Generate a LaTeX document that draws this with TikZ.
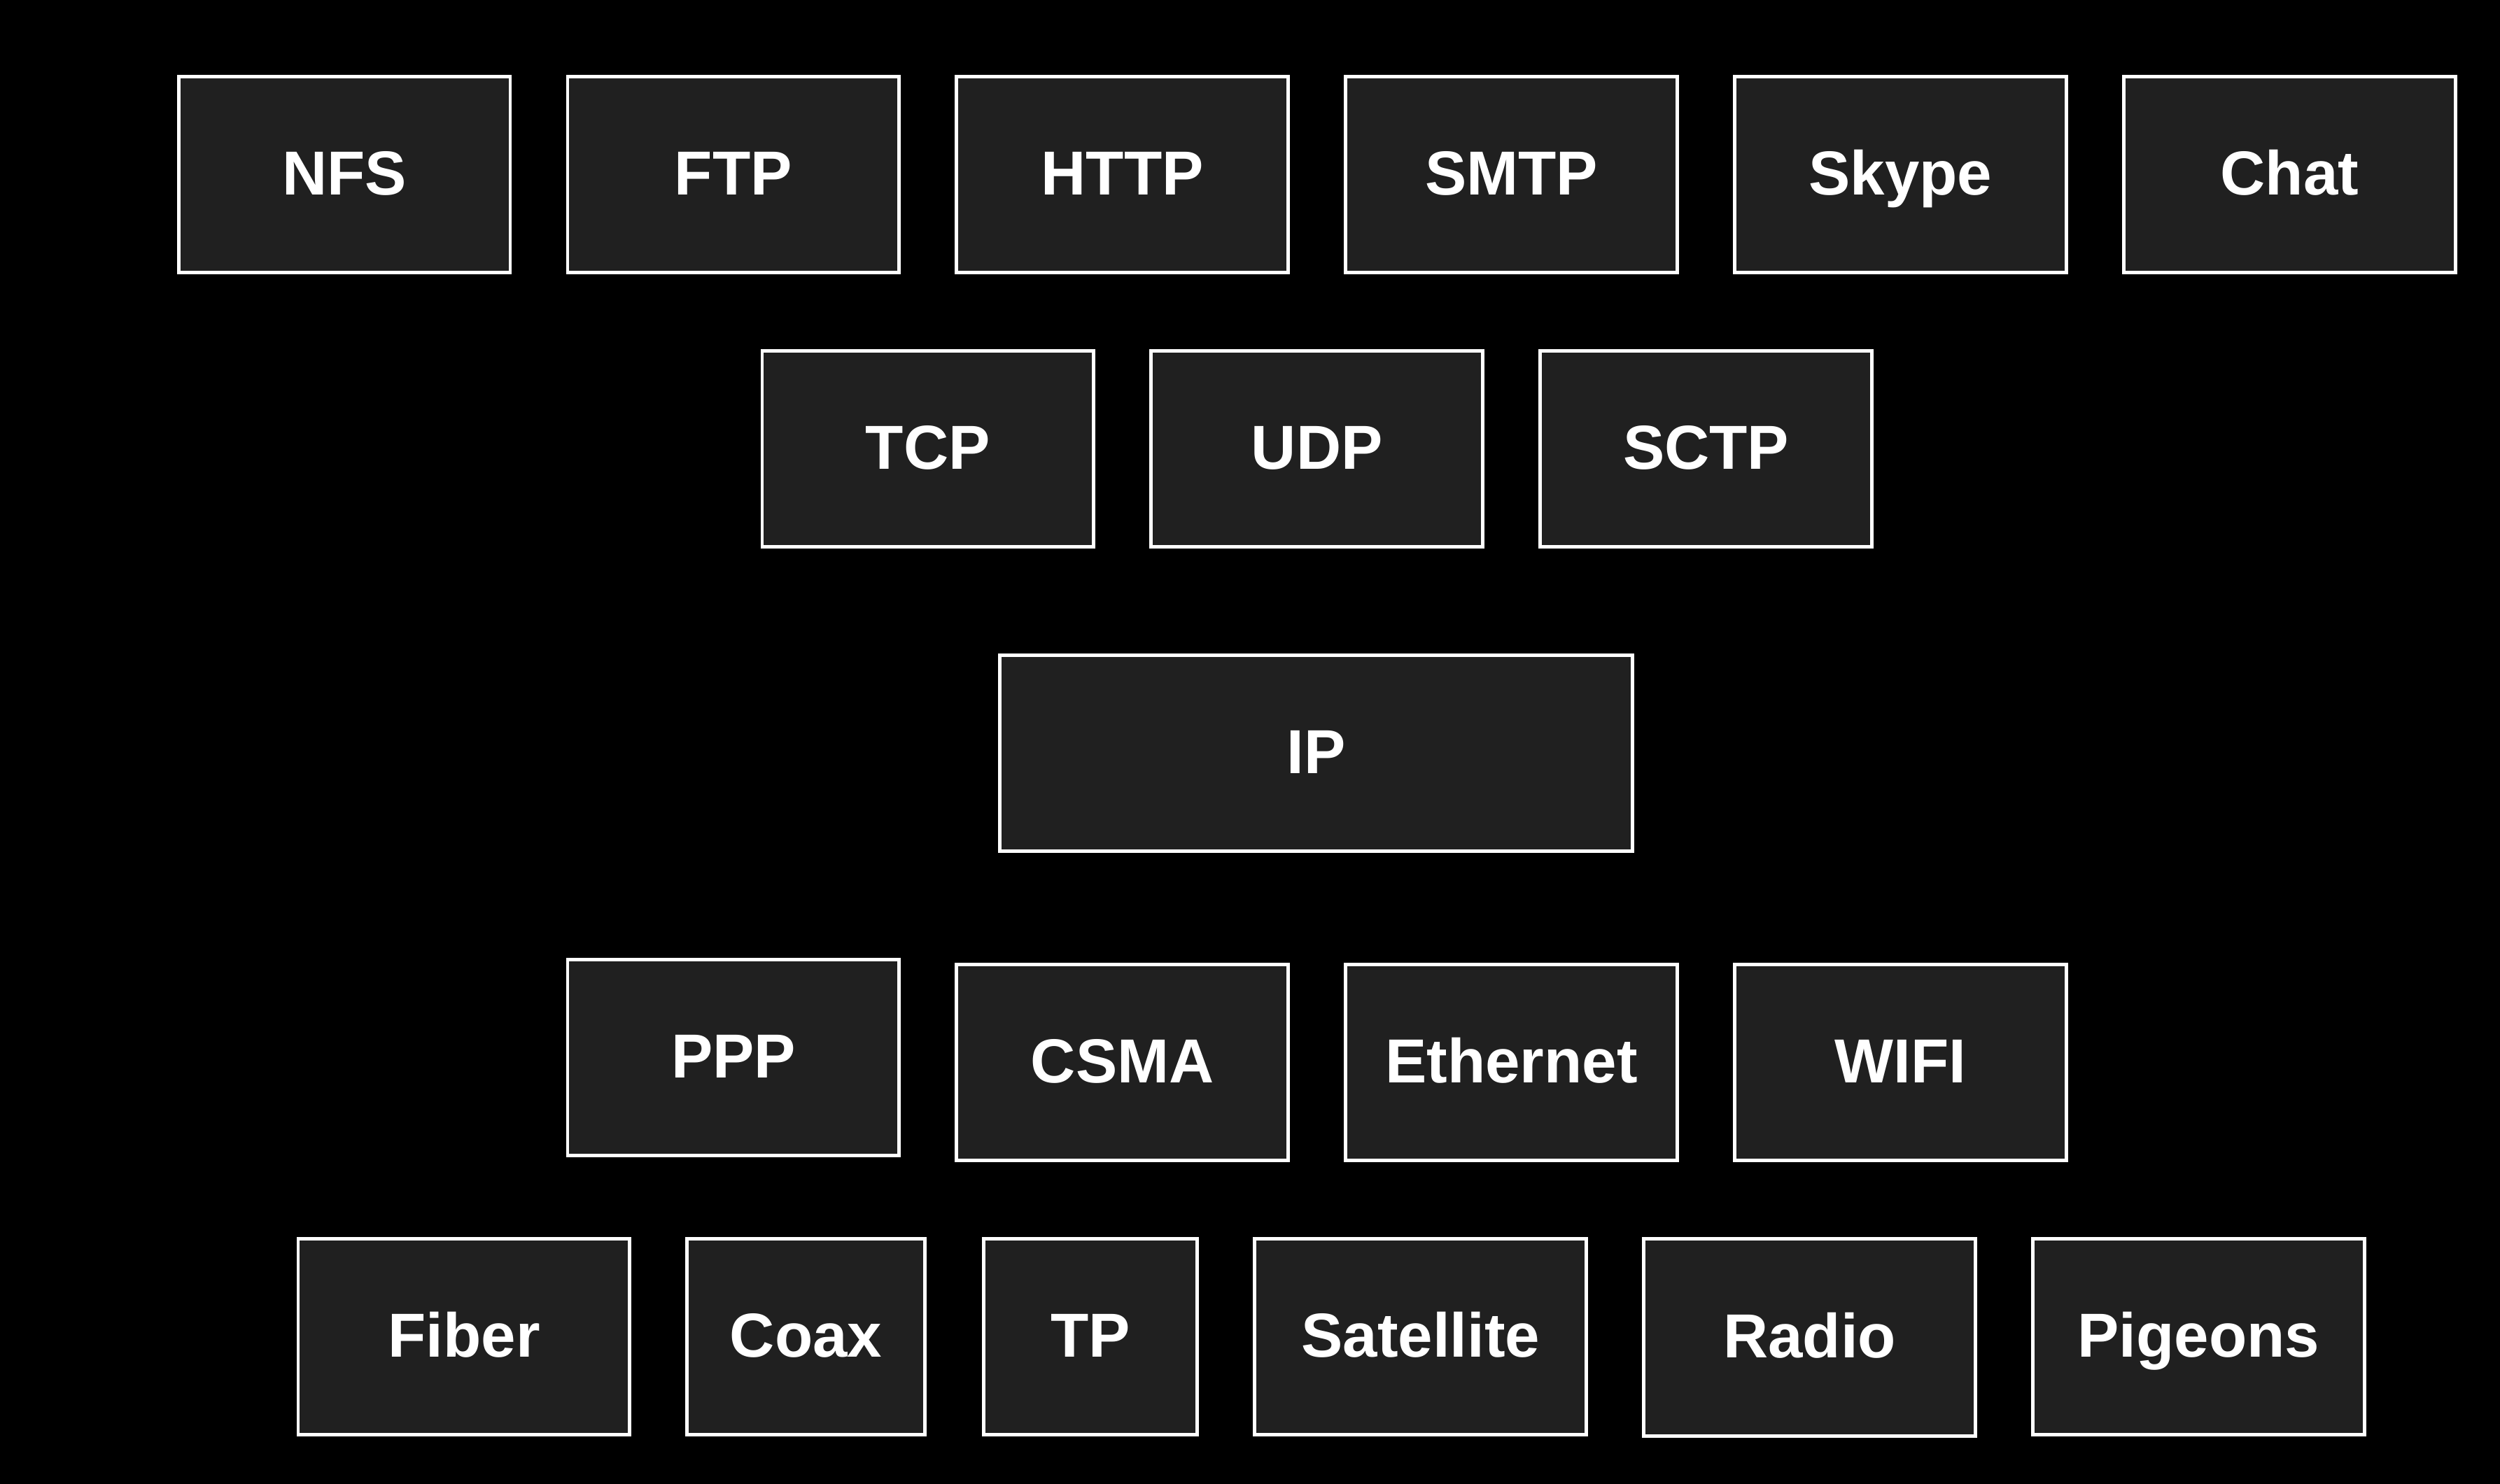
\documentclass[tikz,border=0pt]{standalone}
\usepackage{fontspec}
\setmainfont{Liberation Sans}
\begin{document}
\begin{tikzpicture}
\definecolor{boxfill}{HTML}{202020}
\tikzset{
  proto/.style={draw=white, line width=0.6pt, fill=boxfill, text=white,
    inner sep=0pt, minimum width=2.08cm, minimum height=1.23cm,
    text height=0.72em, text depth=0pt,
    font=\fontsize{11.1}{13}\selectfont\bfseries}
}
\fill[black] (0,0) rectangle (15.68,-9.31);
\useasboundingbox (0,0) rectangle (15.68,-9.31);
% application layer
\node[proto] (nfs)   at (2.16,-1.095)  {NFS};
\node[proto] (ftp)   at (4.60,-1.095)  {FTP};
\node[proto] (http)  at (7.04,-1.095)  {HTTP};
\node[proto] (smtp)  at (9.48,-1.095)  {SMTP};
\node[proto] (skype) at (11.92,-1.095) {Skype};
\node[proto] (chat)  at (14.36,-1.095) {Chat};
% transport layer
\node[proto] (tcp)   at (5.82,-2.815)  {TCP};
\node[proto] (udp)   at (8.26,-2.815)  {UDP};
\node[proto] (sctp)  at (10.70,-2.815) {SCTP};
% network layer
\node[proto, minimum width=3.97cm] (ip) at (8.255,-4.725) {IP};
% link layer
\node[proto] (ppp)   at (4.60,-6.635)  {PPP};
\node[proto] (csma)  at (7.04,-6.665)  {CSMA};
\node[proto] (eth)   at (9.48,-6.665)  {Ethernet};
\node[proto] (wifi)  at (11.92,-6.665) {WIFI};
% physical layer
\node[proto] (fiber) at (2.91,-8.385)  {Fiber};
\node[proto, minimum width=1.49cm] (coax) at (5.055,-8.385) {Coax};
\node[proto, minimum width=1.34cm] (tp)   at (6.84,-8.385)  {TP};
\node[proto] (sat)   at (8.91,-8.385)  {Satellite};
\node[proto, minimum height=1.24cm] (radio) at (11.35,-8.39) {Radio};
\node[proto] (pigeons) at (13.79,-8.385) {Pigeons};
\end{tikzpicture}
\end{document}
